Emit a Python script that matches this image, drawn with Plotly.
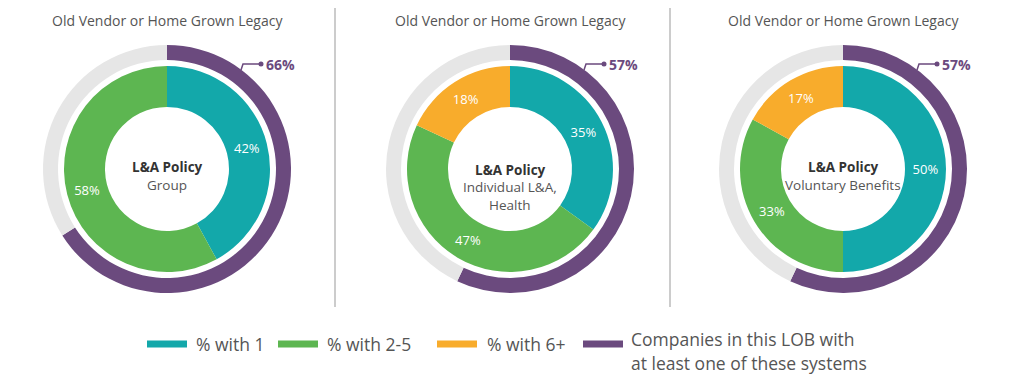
import plotly.graph_objects as go

# ---------------- data ----------------
panel_titles = ["Old Vendor or Home Grown Legacy"] * 3
center_titles = ["L&A Policy", "L&A Policy", "L&A Policy"]
center_subtitles = [["Group"], ["Individual L&A,", "Health"], ["Voluntary Benefits"]]

categories = ["% with 1", "% with 2-5", "% with 6+"]
pct_with_1 = [42, 35, 50]
pct_with_2_5 = [58, 47, 33]
pct_with_6_plus = [0, 18, 17]

lob_label_lines = ["Companies in this LOB with", "at least one of these systems"]
lob_pct = [66, 57, 57]

# ---------------- style ----------------
OFF = 8                       # page body margin
W, H = 1016, 367              # figure size
TEAL = "#13A8AA"
GREEN = "#5DB651"
ORANGE = "#F8AC2C"
PURPLE = "#6B4A7E"
LIGHT = "#E6E6E6"
TXT = "#555555"
DARK = "#333333"
FONT = "Open Sans"

centers_x = [167, 510, 843]   # page pixels
center_y = 169
title_y = [167, 170, 167]
R_OUT = 124
R_RING_IN = 109
R_IN = 103
R_HOLE = 62


def px(x):
    return (x - OFF) / W


def py(y):
    return (H - (y - OFF)) / H


def dom(cx, cy, r):
    return dict(x=[px(cx - r), px(cx + r)], y=[py(cy + r), py(cy - r)])


fig = go.Figure()
shapes = []
annotations = []


def text(x, y, s, size, color, xanchor="center", yanchor="middle"):
    annotations.append(dict(
        x=px(x), y=py(y), xref="paper", yref="paper", text=s, showarrow=False,
        font=dict(size=size, color=color, family=FONT), xanchor=xanchor, yanchor=yanchor,
    ))


for i, cx in enumerate(centers_x):
    # outer ring
    fig.add_trace(go.Pie(
        values=[lob_pct[i], 100 - lob_pct[i]],
        marker=dict(colors=[PURPLE, LIGHT], line=dict(width=0)),
        hole=R_RING_IN / R_OUT, sort=False, direction="clockwise", rotation=0,
        textinfo="none", hoverinfo="skip", showlegend=False,
        domain=dom(cx, center_y, R_OUT),
    ))
    # inner donut
    vals = [pct_with_1[i], pct_with_2_5[i], pct_with_6_plus[i]]
    fig.add_trace(go.Pie(
        labels=categories, values=vals,
        text=[f"{v}%" if v else "" for v in vals],
        textinfo="text", textposition="inside", insidetextorientation="horizontal",
        textfont=dict(color="white", size=13, family=FONT),
        marker=dict(colors=[TEAL, GREEN, ORANGE], line=dict(width=0)),
        hole=R_HOLE / R_IN, sort=False, direction="clockwise", rotation=0,
        hoverinfo="skip", showlegend=False,
        domain=dom(cx, center_y, R_IN),
    ))
    # panel title
    text(cx, 20, panel_titles[i], 14, TXT)
    # centre text
    ty = title_y[i]
    text(cx, ty, f"<b>{center_titles[i]}</b>", 13.5, DARK)
    for j, line in enumerate(center_subtitles[i]):
        text(cx, ty + 17.5 * (j + 1), line, 13.5, TXT)
    # callout elbow
    x0, y0 = cx + 74, center_y - 99
    y1 = center_y - 105
    x1 = cx + 94
    shapes.append(dict(
        type="path", xref="paper", yref="paper",
        path=f"M {px(x0)},{py(y0)} L {px(x0 + 2)},{py(y1)} L {px(x1)},{py(y1)}",
        line=dict(color=PURPLE, width=1.5),
    ))
    shapes.append(dict(
        type="circle", xref="paper", yref="paper",
        x0=px(x1 - 2.5), x1=px(x1 + 2.5), y0=py(y1 + 2.5), y1=py(y1 - 2.5),
        fillcolor=PURPLE, line=dict(width=0),
    ))
    text(x1 + 3, y1, f"<b>{lob_pct[i]}%</b>", 14, PURPLE, xanchor="left")

# dividers
for dx in [335, 670]:
    shapes.append(dict(type="line", xref="paper", yref="paper",
                       x0=px(dx), x1=px(dx), y0=py(307), y1=py(OFF),
                       line=dict(color="#CCCCCC", width=2)))

# custom legend
legend_items = [
    ([categories[0]], TEAL, 147, 194),
    ([categories[1]], GREEN, 278, 325),
    ([categories[2]], ORANGE, 437, 485),
    (lob_label_lines, PURPLE, 583, 629),
]
ly = 344
for lines, col, sx, tx in legend_items:
    shapes.append(dict(type="rect", xref="paper", yref="paper",
                       x0=px(sx), x1=px(sx + 40), y0=py(ly + 3.5), y1=py(ly - 3.5),
                       fillcolor=col, line=dict(width=0)))
    if len(lines) == 1:
        text(tx, ly, lines[0], 17.5, TXT, xanchor="left")
    else:
        text(tx, 339, lines[0], 17.5, TXT, xanchor="left")
        text(tx, 363, lines[1], 17.5, TXT, xanchor="left")

fig.update_layout(
    width=W, height=H, margin=dict(l=0, r=0, t=0, b=0),
    paper_bgcolor="white", plot_bgcolor="white",
    shapes=shapes, annotations=annotations, showlegend=False,
)

fig.write_html("out.html")
